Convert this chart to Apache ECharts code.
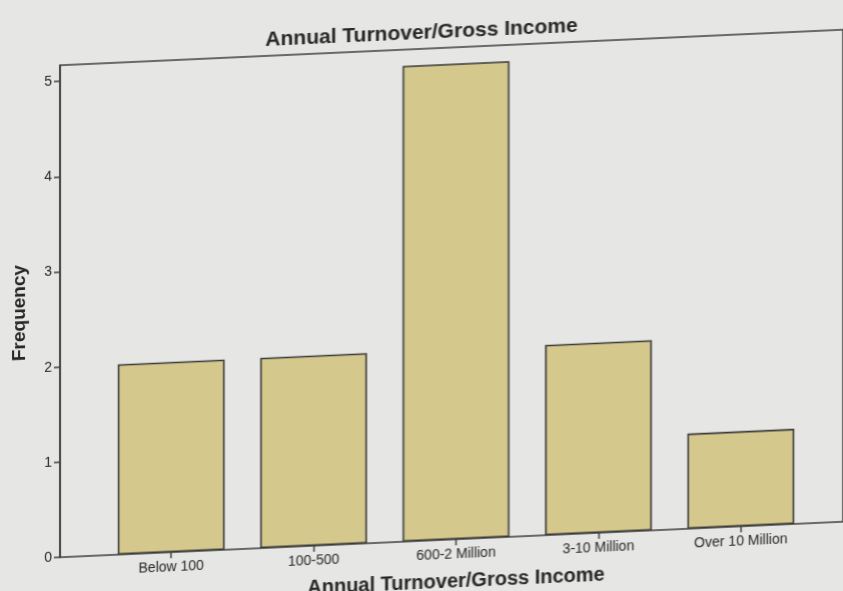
<!DOCTYPE html>
<html>
<head>
<meta charset="utf-8">
<script src="https://cdn.jsdelivr.net/npm/echarts@6/dist/echarts.min.js"></script>
<style>
  html, body { margin: 0; padding: 0; width: 843px; height: 591px; overflow: hidden; background: #e6e6e4; }
  #chart { width: 843px; height: 640px; transform: skewY(-2.6deg); transform-origin: 0 0; }
</style>
</head>
<body>
<div id="chart"></div>
<script>
const categories = ['Below 100', '100-500', '600-2 Million', '3-10 Million', 'Over 10 Million'];
const frequency = [2, 2, 5, 2, 1];
const yTicks = [0, 1, 2, 3, 4, 5];
const chartTitle = 'Annual Turnover/Gross Income';
const xAxisTitle = 'Annual Turnover/Gross Income';
const yAxisTitle = 'Frequency';

const FONT = '"Liberation Sans", Arial, sans-serif';
const INK = '#262626';
const Y_MAX = 5.17;

const chart = echarts.init(document.getElementById('chart'), null, { renderer: 'canvas' });
chart.setOption({
  backgroundColor: 'transparent',
  animation: false,
  title: {
    text: chartTitle,
    left: 'center',
    top: 37,
    textStyle: { fontFamily: FONT, fontSize: 21, fontWeight: 'bold', color: INK }
  },
  grid: [
    { left: 60, top: 68, right: -60, bottom: 80, show: true, borderColor: '#404040', borderWidth: 1.6, backgroundColor: 'transparent' },
    { left: 100, top: 68, width: 712, bottom: 80 }
  ],
  xAxis: [
    { type: 'value', gridIndex: 0, show: false, min: 0, max: 1 },
    {
      type: 'category', gridIndex: 1, data: categories,
      axisLine: { show: false },
      axisTick: { show: true, alignWithLabel: true, length: 6, lineStyle: { color: '#404040', width: 1.5 } },
      axisLabel: { margin: 8, fontFamily: FONT, fontSize: 14, color: INK, interval: 0 },
      name: xAxisTitle, nameLocation: 'middle', nameGap: 32,
      nameTextStyle: { fontFamily: FONT, fontSize: 20, fontWeight: 'bold', color: INK }
    }
  ],
  yAxis: [
    {
      type: 'value', gridIndex: 0, min: 0, max: Y_MAX, interval: 1,
      splitLine: { show: false },
      axisLine: { show: true, lineStyle: { color: '#404040', width: 1.6 } },
      axisTick: { show: true, length: 6, customValues: yTicks, lineStyle: { color: '#404040', width: 1.5 } },
      axisLabel: { margin: 8, customValues: yTicks, fontFamily: FONT, fontSize: 14, color: INK },
      name: yAxisTitle, nameLocation: 'middle', nameGap: 31,
      nameTextStyle: { fontFamily: FONT, fontSize: 19, fontWeight: 'bold', color: INK }
    },
    { type: 'value', gridIndex: 1, min: 0, max: Y_MAX, show: false, splitLine: { show: false } }
  ],
  series: [{
    type: 'bar',
    xAxisIndex: 1, yAxisIndex: 1,
    data: frequency,
    barCategoryGap: '25%',
    itemStyle: { color: '#d5c88c', borderColor: '#3a3a3a', borderWidth: 1.6 }
  }]
});
</script>
</body>
</html>
